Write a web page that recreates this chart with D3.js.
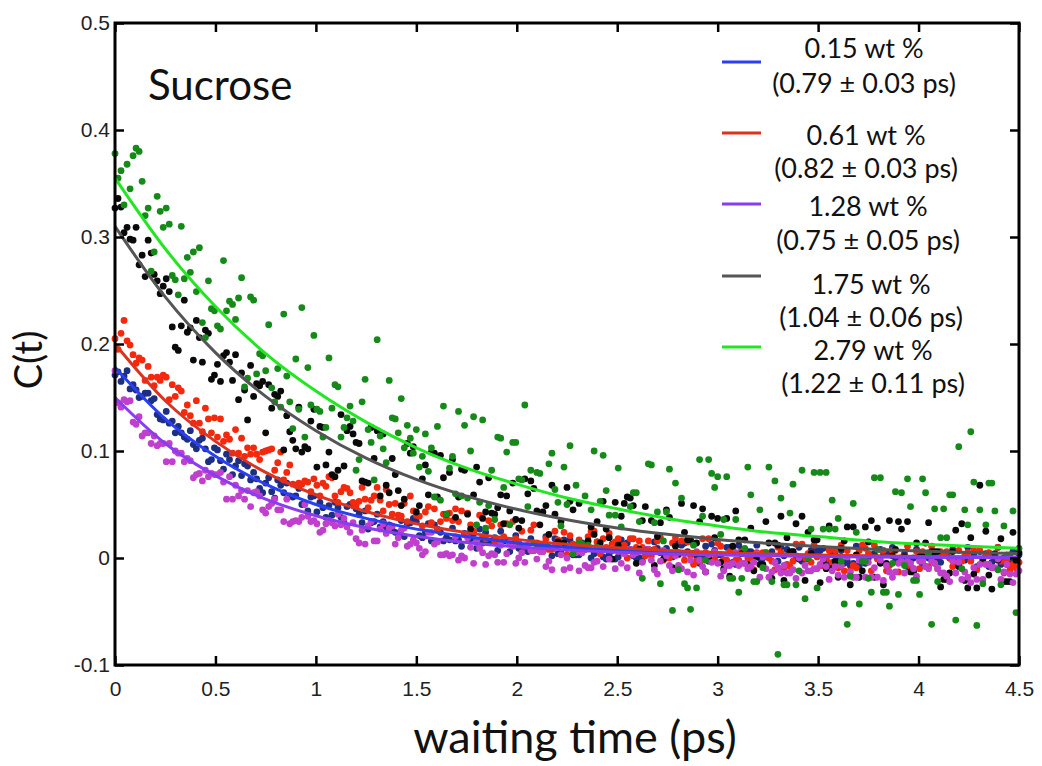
<!DOCTYPE html>
<html>
<head>
<meta charset="utf-8">
<script src="https://cdn.jsdelivr.net/npm/d3@7"></script>
<style>
  html, body { margin: 0; padding: 0; background: #fff; }
  svg { display: block; }
</style>
</head>
<body>
<svg id="chart" width="1042" height="766"></svg>
<script>
// ---------- DATA ----------
const xDomain = [0, 4.5];
const yDomain = [-0.1, 0.5];
const xTicks = [0, 0.5, 1, 1.5, 2, 2.5, 3, 3.5, 4, 4.5];
const xTickLabels = ["0", "0.5", "1", "1.5", "2", "2.5", "3", "3.5", "4", "4.5"];
const yTicks = [-0.1, 0, 0.1, 0.2, 0.3, 0.4, 0.5];
const yTickLabels = ["-0.1", "0", "0.1", "0.2", "0.3", "0.4", "0.5"];

const seriesNames = ["0.15 wt %", "0.61 wt %", "1.28 wt %", "1.75 wt %", "2.79 wt %"];
const seriesTaus = ["(0.79 ± 0.03 ps)", "(0.82 ± 0.03 ps)", "(0.75 ± 0.05 ps)", "(1.04 ± 0.06 ps)", "(1.22 ± 0.11 ps)"];

// measured C(t), evenly spaced over 0 .. 4.5 ps (one row = 0.15 ps)
const dots015 = [
 .171,.174,.165,.170,.175,.158,.162,.157,.150,.151,
 .154,.154,.147,.149,.134,.130,.129,.137,.126,.128,
 .117,.123,.117,.113,.111,.119,.106,.102,.110,.112,
 .102,.090,.092,.103,.101,.091,.083,.097,.092,.078,
 .086,.091,.077,.088,.086,.073,.080,.074,.065,.061,
 .070,.075,.062,.056,.073,.068,.061,.070,.058,.057,
 .058,.065,.050,.051,.044,.057,.058,.043,.052,.047,
 .038,.049,.040,.052,.047,.038,.033,.048,.050,.049,
 .046,.041,.033,.044,.027,.033,.034,.041,.029,.034,
 .029,.031,.026,.024,.023,.035,.020,.032,.033,.037,
 .034,.021,.019,.024,.032,.016,.031,.027,.024,.016,
 .019,.017,.028,.016,.017,.011,.023,.022,.018,.023,
 .009,.027,.014,.024,.016,.016,.019,.007,.025,.016,
 .016,.006,.015,.021,.009,.009,.010,.006,.018,.007,
 .013,.009,.013,.020,.010,.002,.018,.004,.005,.017,
 .009,.017,.003,.003,.003,.014,.008,.010,.000,.004,
 .015,.007,.001,-.001,.003,.013,-.001,.001,.017,.005,
 .014,.008,.002,.000,.000,-.003,.008,.007,.007,.015,
 .009,.005,.005,.009,.001,.001,.015,.005,.012,.014,
 .006,.004,.013,.002,-.005,.002,.011,-.003,.013,.007,
 .003,.003,-.002,.010,.010,-.004,-.006,.012,.008,.004,
 .006,.006,.004,.012,.000,.000,.002,.002,.006,-.004,
 -.003,.010,.002,.008,.004,.006,.002,.010,-.003,.000,
 -.001,.007,.009,.005,.007,.009,-.001,-.005,.005,.003,
 -.003,.007,-.005,-.003,-.007,-.005,.011,-.007,.011,-.005,
 .000,.003,.004,.000,.008,.003,.004,.004,.010,-.003,
 -.002,.000,.004,-.008,-.002,.000,.008,.004,-.006,-.008,
 .000,.002,.000,-.002,-.004,.004,.004,.000,.008,-.004,
 -.006,-.002,-.002,.010,-.002,.004,-.008,.006,-.004,.004,
 -.008,-.004,.000,.010,-.006,.000,-.006,-.004,.006,-.002,
 .003
];
const dots061 = [
 .205,.195,.210,.222,.203,.199,.190,.182,.187,.185,
 .166,.179,.169,.161,.169,.166,.171,.169,.148,.162,
 .151,.159,.156,.136,.143,.133,.126,.147,.126,.118,
 .140,.130,.117,.131,.113,.130,.109,.115,.111,.098,
 .120,.098,.112,.095,.103,.097,.103,.097,.092,.099,
 .100,.101,.102,.082,.089,.099,.073,.080,.087,.069,
 .068,.070,.069,.072,.071,.062,.074,.068,.058,.070,
 .067,.076,.075,.058,.052,.062,.066,.065,.061,.052,
 .049,.053,.066,.055,.047,.054,.058,.066,.054,.044,
 .064,.050,.041,.051,.040,.039,.051,.034,.058,.044,
 .040,.039,.030,.043,.048,.033,.046,.026,.034,.041,
 .037,.042,.035,.046,.034,.044,.022,.042,.031,.025,
 .016,.040,.020,.018,.035,.030,.016,.016,.031,.020,
 .032,.014,.034,.018,.014,.025,.011,.011,.026,.031,
 .014,.009,.006,.018,.008,.008,.025,.017,.015,.024,
 .003,.021,.013,.012,.017,.006,.009,.020,.025,.025,
 .015,.004,.018,.010,.023,.012,.015,.018,.007,.012,
 .000,.018,.018,.010,.016,.010,.002,.016,.002,.008,
 .016,.019,-.002,.000,.000,.014,.019,.003,.016,-.002,
 .015,.002,-.006,-.003,-.003,.018,.005,.018,-.003,-.001,
 .014,.011,-.002,-.002,.006,.009,-.002,-.002,.006,-.005,
 .000,.000,-.011,.005,.002,.005,.005,.000,-.003,-.011,
 .010,.005,-.011,-.006,-.008,-.003,.013,.000,.013,.000,
 .004,-.004,.012,.001,-.007,-.007,-.001,.007,-.004,.007,
 -.009,.012,-.012,.007,-.012,-.007,-.009,.007,.012,.009,
 .004,-.012,.012,-.001,-.004,.007,-.012,-.007,.007,.007,
 -.013,.000,-.005,.011,-.008,-.010,.006,-.010,.006,.003,
 -.008,.011,-.005,-.010,.006,.003,.006,.000,-.008,-.005,
 .007,-.003,.002,.005,-.003,.007,-.011,.007,-.003,.002,
 .005,.002,.002,.010,-.003,-.014,-.001,-.011,-.006,-.009,
 -.004
];
const dots128 = [
 .175,.145,.141,.148,.146,.147,.127,.125,.132,.114,
 .117,.117,.107,.114,.105,.107,.107,.090,.107,.090,
 .100,.098,.098,.090,.093,.091,.075,.078,.079,.072,
 .082,.076,.079,.078,.078,.080,.071,.055,.076,.055,
 .068,.058,.063,.055,.063,.048,.061,.062,.058,.045,
 .042,.048,.051,.055,.045,.045,.034,.055,.032,.034,
 .035,.034,.038,.050,.039,.034,.035,.032,.024,.026,
 .032,.035,.033,.030,.041,.031,.037,.029,.024,.033,
 .018,.014,.026,.013,.030,.034,.016,.016,.027,.032,
 .023,.028,.030,.013,.019,.026,.028,.011,.013,.017,
 .014,.009,.003,.006,.024,.024,.013,.015,.003,.003,
 .004,.002,.003,.020,-.002,.002,.000,.019,.010,-.005,
 .014,.009,.005,-.006,.002,.004,.003,-.004,.012,-.004,
 .004,.014,.011,-.005,.000,.005,-.004,.012,.007,.007,
 -.001,.006,.006,-.008,-.003,-.011,.011,.011,.003,-.011,
 .000,-.009,.007,.005,-.012,.005,-.007,-.009,-.009,-.004,
 -.003,.009,-.008,.009,-.001,.009,-.010,.006,-.005,.004,
 -.009,.008,.003,.005,-.014,-.004,.008,.008,-.002,-.011,
 -.015,-.003,.007,.002,-.007,-.012,.002,-.007,-.010,.004,
 -.013,-.002,-.016,.006,-.002,-.008,-.013,.003,-.004,.006,
 -.005,-.017,-.012,-.007,-.007,-.005,.005,-.007,-.005,-.005,
 -.010,-.008,-.004,.004,-.018,.001,-.010,-.018,-.013,-.004,
 -.009,-.014,-.007,-.014,-.014,-.011,-.019,.000,-.014,-.007,
 -.012,-.012,-.010,-.010,-.006,-.001,-.008,-.020,-.012,-.008,
 -.016,-.007,-.018,.001,-.013,-.018,-.018,-.002,-.002,-.018,
 -.004,-.018,-.009,-.018,-.002,-.021,-.007,-.013,-.018,-.013,
 -.005,-.003,-.014,-.003,-.005,-.010,-.017,-.003,-.003,-.008,
 -.010,-.003,-.005,-.010,-.014,-.014,-.017,-.022,-.003,-.014,
 -.004,-.020,-.013,-.018,-.023,-.009,-.020,-.006,-.020,-.006,
 -.006,-.009,-.009,-.001,-.020,-.013,-.006,-.015,-.023,-.015,
 -.012
];
const dots175 = [
 .327,.336,.328,.304,.309,.298,.297,.309,.274,.283,
 .263,.297,.285,.265,.259,.247,.254,.261,.249,.216,
 .197,.194,.217,.241,.211,.215,.185,.222,.206,.183,
 .213,.210,.167,.171,.181,.165,.189,.192,.183,.166,
 .190,.148,.173,.157,.129,.180,.151,.163,.161,.165,
 .117,.162,.140,.153,.151,.156,.101,.133,.118,.110,
 .102,.141,.099,.104,.102,.128,.139,.085,.123,.122,
 .087,.099,.078,.076,.082,.134,.086,.119,.123,.116,
 .108,.107,.072,.071,.070,.122,.093,.119,.058,.116,
 .068,.061,.093,.078,.063,.049,.055,.107,.098,.104,
 .043,.049,.074,.087,.059,.099,.098,.057,.096,.075,
 .041,.080,.092,.038,.057,.083,.082,.041,.027,.059,
 .085,.071,.037,.043,.075,.042,.041,.047,.059,.032,
 .058,.044,.070,.036,.028,.035,.074,.060,.072,.065,
 .044,.031,.043,.049,.022,.068,.041,.015,.034,.014,
 .066,.053,.045,.005,.051,.011,.010,.016,.029,.022,
 .034,.014,.053,.027,.019,-.001,.052,.012,.039,.051,
 .057,.056,.049,-.005,.008,.035,.048,.008,.035,-.007,
 .020,.033,-.001,.045,.038,-.009,.011,.004,.051,.024,
 .017,.017,.049,.014,.034,.046,-.013,.000,.039,.019,
 .037,-.004,-.010,.037,-.017,.011,.044,.017,.004,.017,
 -.006,.028,-.012,.001,-.006,-.006,.034,.014,-.019,.014,
 .012,.039,-.021,.019,.006,.006,.032,-.001,.039,-.021,
 .024,.004,.017,.017,-.023,-.003,-.010,.030,-.010,-.003,
 -.018,.009,.016,.029,-.025,.029,.003,-.018,-.012,.029,
 .015,.035,-.018,.028,-.005,-.025,-.005,.035,.002,.008,
 .034,.027,.001,.034,-.013,-.013,.014,.001,.001,.014,
 .033,.006,.006,.006,-.027,-.020,-.020,-.014,.006,.026,
 -.008,.032,-.021,-.028,.019,-.015,-.028,.068,-.001,.025,
 -.016,-.029,.004,-.002,.018,-.022,-.022,-.022,.024,-.002,
 .005
];
const dots279 = [
 .378,.355,.362,.330,.368,.345,.376,.383,.380,.352,
 .320,.327,.268,.286,.338,.324,.309,.327,.312,.264,
 .260,.246,.310,.261,.281,.267,.286,.249,.290,.220,
 .206,.259,.233,.231,.217,.214,.278,.231,.240,.237,
 .223,.243,.262,.160,.168,.244,.241,.172,.191,.189,
 .175,.218,.159,.146,.177,.141,.228,.170,.146,.121,
 .186,.139,.234,.113,.178,.143,.208,.139,.137,.113,
 .122,.187,.140,.162,.160,.113,.122,.131,.142,.128,
 .082,.092,.146,.167,.120,.108,.073,.204,.114,.102,
 .089,.166,.131,.130,.117,.149,.103,.124,.112,.098,
 .120,.085,.095,.116,.081,.103,.057,.123,.054,.142,
 .041,.084,.095,.060,.137,.058,.124,.056,.100,.132,
 .031,.052,.129,.028,.049,.082,.036,.113,.112,.066,
 .099,.031,.108,.108,.074,.073,.143,.048,.082,.014,
 .080,.079,.012,.011,.088,.098,.064,.052,.030,.085,
 .050,.105,.004,.068,.014,.013,.058,.012,.045,.100,
 .010,.053,.096,.063,.040,.007,.040,.084,.029,.007,
 .007,.048,.061,.061,.034,-.019,.007,.088,.087,.033,
 .043,-.024,.016,.043,.083,-.049,.070,-.011,.056,-.024,
 -.028,-.048,.012,-.028,.092,.039,-.002,.092,.079,.066,
 .076,.022,.036,.076,-.019,-.019,.036,-.032,-.019,.009,
 .085,.059,-.022,-.022,.045,-.009,.005,.085,-.022,.072,
 -.090,.056,-.025,-.025,.042,.069,-.025,-.012,.082,-.038,
 .000,.027,.080,-.028,.080,.027,.080,.027,.054,.027,
 .037,-.003,-.043,-.062,-.017,.051,.024,-.043,-.003,-.003,
 -.019,-.032,.075,.008,.075,-.032,-.032,-.045,-.005,.062,
 -.034,.061,-.007,.074,.048,-.021,-.021,-.034,.074,.061,
 .005,-.062,.046,-.022,.019,.046,.019,.059,.059,-.058,
 .104,-.010,.045,.031,.118,.071,-.063,.045,-.024,.031,
 .070,.070,.044,-.011,-.025,.030,.003,.003,.044,-.051,
 .009
];

// fitted curves, read every 0.25 ps from 0 to 4.5
const fitT = [0,0.25,0.5,0.75,1,1.25,1.5,1.75,2,2.25,2.5,2.75,3,3.25,3.5,3.75,4,4.25,4.5];
const fit015 = [.178,.130,.095,.069,.050,.037,.027,.020,.014,.010,.0075,.0055,.004,.003,.002,.0015,.001,.0008,.0006];
const fit061 = [.200,.147,.109,.080,.059,.0435,.032,.0237,.0174,.0128,.0095,.007,.0051,.0038,.0028,.002,.0015,.0011,.0008];
const fit128 = [.150,.107,.077,.055,.0395,.0283,.0203,.0145,.0104,.0075,.0053,.0038,.0027,.002,.0014,.001,.0007,.0005,.0004];
const fit175 = [.310,.244,.192,.151,.119,.0933,.0734,.0578,.0455,.0358,.0281,.0221,.0174,.0137,.0108,.0085,.0066,.0052,.0041];
const fit279 = [.355,.289,.235,.191,.156,.127,.103,.084,.069,.056,.046,.037,.030,.024,.020,.016,.013,.011,.009];

// ---------- DRAWING ----------
const svg = d3.select("#chart");
const L = 115, R = 1019, T = 23, B = 665;
const x = d3.scaleLinear().domain(xDomain).range([L, R]);
const y = d3.scaleLinear().domain(yDomain).range([B, T]);

const dotSets = [
  {vals: dots015, color: "#1c2f80"},
  {vals: dots061, color: "#f4280c"},
  {vals: dots175, color: "#0a0a0a"},
  {vals: dots128, color: "#c03fcc"},
  {vals: dots279, color: "#168a18"}
];
const fits = [
  {vals: fit015, color: "#2a3ff2"},
  {vals: fit061, color: "#dc3320"},
  {vals: fit128, color: "#8a3cf0"},
  {vals: fit175, color: "#555555"},
  {vals: fit279, color: "#22e622"}
];

const gDots = svg.append("g");
dotSets.forEach(s => {
  const n = s.vals.length;
  gDots.append("g").selectAll("circle")
    .data(s.vals)
    .join("circle")
    .attr("cx", (d, i) => x(xDomain[0] + i * (xDomain[1] - xDomain[0]) / (n - 1)))
    .attr("cy", d => y(d))
    .attr("r", 3.4)
    .attr("fill", s.color);
});

const line = d3.line()
  .x((d, i) => x(fitT[i]))
  .y(d => y(d))
  .curve(d3.curveMonotoneX);
fits.forEach(f => {
  svg.append("path")
    .attr("d", line(f.vals))
    .attr("fill", "none")
    .attr("stroke", f.color)
    .attr("stroke-width", 3);
});

// axes (ticks pointing inward on all four sides)
const tickFont = "'Liberation Sans', Arial, Helvetica, sans-serif";
const axB = d3.axisBottom(x).tickValues(xTicks).tickFormat((d, i) => xTickLabels[i])
  .tickSizeInner(-9).tickSizeOuter(0).tickPadding(16);
const axT = d3.axisTop(x).tickValues(xTicks).tickFormat("").tickSizeInner(-9).tickSizeOuter(0);
const axLft = d3.axisLeft(y).tickValues(yTicks).tickFormat((d, i) => yTickLabels[i])
  .tickSizeInner(-9).tickSizeOuter(0).tickPadding(5);
const axRgt = d3.axisRight(y).tickValues(yTicks).tickFormat("").tickSizeInner(-9).tickSizeOuter(0);

function styleAxis(g) {
  g.select(".domain").remove();
  g.selectAll(".tick line").attr("stroke", "#000").attr("stroke-width", 2.5);
  g.selectAll(".tick text").attr("fill", "#222").style("font-family", tickFont).style("font-size", "21px");
}
svg.append("g").attr("transform", `translate(0,${B})`).call(axB).call(styleAxis);
svg.append("g").attr("transform", `translate(0,${T})`).call(axT).call(styleAxis);
svg.append("g").attr("transform", `translate(${L},0)`).call(axLft).call(styleAxis);
svg.append("g").attr("transform", `translate(${R},0)`).call(axRgt).call(styleAxis);

svg.append("rect")
  .attr("x", L).attr("y", T).attr("width", R - L).attr("height", B - T)
  .attr("fill", "none").attr("stroke", "#000").attr("stroke-width", 3);

// titles
const txtFont = "Lato, 'Open Sans', sans-serif";
svg.append("text").attr("x", 148).attr("y", 100).text("Sucrose")
  .style("font-family", txtFont).style("font-size", "42px").attr("fill", "#111");
svg.append("text").attr("x", (L + R) / 2 + 8).attr("y", 753).attr("text-anchor", "middle")
  .text("waiting time (ps)").style("font-family", txtFont).style("font-size", "45px").attr("fill", "#111");
svg.append("text").attr("transform", "translate(42,360) rotate(-90)").attr("text-anchor", "middle")
  .text("C(t)").style("font-family", txtFont).style("font-size", "38px").attr("fill", "#111");

// legend
const legLineY = [62, 133, 204, 276, 347];
const legName = [58, 145, 216, 294, 360];
const legTau = [93, 178, 250, 327, 393];
const legCx = [864, 866, 868, 871, 873];
fits.forEach((f, i) => {
  svg.append("line").attr("x1", 722).attr("x2", 761).attr("y1", legLineY[i]).attr("y2", legLineY[i])
    .attr("stroke", f.color).attr("stroke-width", 3);
  svg.append("text").attr("x", legCx[i]).attr("y", legName[i]).attr("text-anchor", "middle")
    .text(seriesNames[i]).style("font-family", txtFont).style("font-size", "27px").attr("fill", "#111");
  svg.append("text").attr("x", legCx[i]).attr("y", legTau[i]).attr("text-anchor", "middle")
    .text(seriesTaus[i]).style("font-family", txtFont).style("font-size", "27px").attr("fill", "#111");
});
</script>
</body>
</html>
